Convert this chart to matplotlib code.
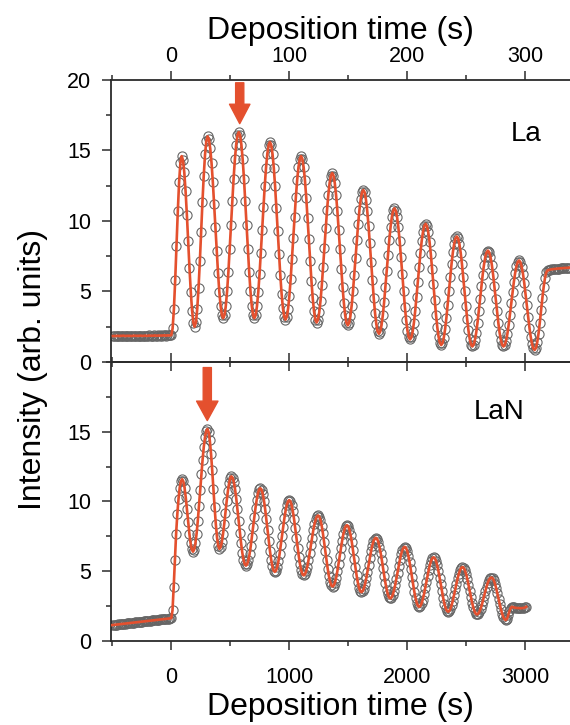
import numpy as np
import matplotlib.pyplot as plt
from matplotlib.ticker import MultipleLocator

plt.rcParams['font.family'] = ['Liberation Sans', 'DejaVu Sans']

# ---- La film: one sample every 1.1 s (top axis, s) ----
la_dt = 1.1
la_baseline = [
    1.84, 1.85, 1.83, 1.86, 1.85, 1.84, 1.86, 1.85, 1.87, 1.85,
    1.84, 1.86, 1.85, 1.86, 1.84, 1.85, 1.87, 1.86, 1.85, 1.86,
    1.85, 1.87, 1.86, 1.85, 1.86, 1.87, 1.85, 1.86, 1.88, 1.86,
    1.87, 1.86, 1.88, 1.87, 1.86, 1.88, 1.87, 1.88, 1.87, 1.89,
    1.88, 1.87, 1.89, 1.88, 1.89,
]
la_growth = [
    1.9, 2.38, 3.75, 5.82, 8.25, 10.68, 12.75, 14.12, 14.6,
    14.31, 13.45, 12.11, 10.43, 8.55, 6.67, 4.99, 3.65, 2.79, 2.5,
    2.82, 3.78, 5.28, 7.16, 9.25, 11.34, 13.22, 14.72, 15.68, 16.0,
    15.78, 15.14, 14.12, 12.77, 11.21, 9.55, 7.89, 6.32, 4.98, 3.96, 3.32, 3.1,
    3.32, 3.98, 5.03, 6.4, 8.0, 9.7, 11.4, 13.0, 14.37, 15.42, 16.08, 16.3,
    16.08, 15.42, 14.37, 13.0, 11.4, 9.7, 8.0, 6.4, 5.03, 3.98, 3.32, 3.1,
    3.31, 3.94, 4.93, 6.23, 7.74, 9.35, 10.96, 12.48, 13.78, 14.76, 15.39, 15.6,
    15.39, 14.76, 13.76, 12.45, 10.93, 9.3, 7.67, 6.15, 4.84, 3.84, 3.21, 3.0,
    3.2, 3.78, 4.69, 5.9, 7.3, 8.8, 10.3, 11.7, 12.91, 13.82, 14.4, 14.6,
    14.4, 13.81, 12.88, 11.65, 10.22, 8.7, 7.18, 5.75, 4.52, 3.59, 3.0, 2.8,
    2.98, 3.51, 4.35, 5.45, 6.73, 8.1, 9.47, 10.75, 11.85, 12.69, 13.22, 13.4,
    13.22, 12.68, 11.82, 10.7, 9.39, 8.0, 6.61, 5.3, 4.18, 3.32, 2.78, 2.6,
    2.76, 3.24, 4.0, 5.0, 6.16, 7.4, 8.64, 9.8, 10.8, 11.56, 12.04, 12.2,
    12.03, 11.52, 10.71, 9.65, 8.42, 7.1, 5.78, 4.55, 3.49, 2.68, 2.17, 2.0,
    2.15, 2.6, 3.3, 4.23, 5.3, 6.45, 7.6, 8.68, 9.6, 10.3, 10.75, 10.9,
    10.74, 10.28, 9.54, 8.57, 7.45, 6.25, 5.05, 3.92, 2.96, 2.22, 1.76, 1.6,
    1.74, 2.15, 2.8, 3.65, 4.64, 5.7, 6.76, 7.75, 8.6, 9.25, 9.66, 9.8,
    9.65, 9.22, 8.54, 7.65, 6.61, 5.5, 4.39, 3.35, 2.46, 1.78, 1.35, 1.2,
    1.33, 1.72, 2.32, 3.13, 4.06, 5.05, 6.04, 6.98, 7.78, 8.38, 8.77, 8.9,
    8.77, 8.38, 7.76, 6.95, 6.01, 5.0, 3.99, 3.05, 2.24, 1.62, 1.23, 1.1,
    1.22, 1.56, 2.09, 2.8, 3.62, 4.5, 5.38, 6.2, 6.91, 7.44, 7.78, 7.9,
    7.78, 7.44, 6.91, 6.2, 5.38, 4.5, 3.62, 2.8, 2.09, 1.56, 1.22, 1.1,
    1.2, 1.51, 1.99, 2.63, 3.36, 4.15, 4.94, 5.68, 6.31, 6.79, 7.1, 7.2,
    7.09, 6.77, 6.27, 5.61, 4.84, 4.02, 3.21, 2.44, 1.78, 1.28, 0.96, 0.85,
    0.99, 1.39, 2.01, 2.8, 3.68, 4.55, 5.34, 5.96, 6.36, 6.5,
    6.52, 6.55, 6.57, 6.58, 6.6, 6.6, 6.62, 6.63, 6.63, 6.65, 6.65, 6.66,
    6.67, 6.67, 6.68, 6.68, 6.7,
]

# ---- LaN film: one sample every 10.2 s (bottom axis, s) ----
lan_dt = 10.2
lan_baseline = [
    1.14, 1.15, 1.16, 1.17, 1.18, 1.19, 1.20, 1.21, 1.22, 1.23,
    1.24, 1.25, 1.26, 1.27, 1.28, 1.29, 1.30, 1.31, 1.32, 1.33,
    1.34, 1.35, 1.36, 1.37, 1.38, 1.39, 1.40, 1.41, 1.42, 1.43,
    1.44, 1.45, 1.46, 1.47, 1.48, 1.49, 1.50, 1.51, 1.52, 1.53,
    1.54, 1.55, 1.56, 1.57, 1.58, 1.59, 1.60, 1.61, 1.62,
]
lan_growth = [
    1.64, 2.2, 3.9, 5.8, 7.7, 9.1, 10.2, 11.0, 11.45, 11.6,
    11.44, 10.99, 10.3, 9.45, 8.55, 7.7, 7.01, 6.56, 6.4,
    6.55, 6.99, 7.68, 8.6, 9.66, 10.8, 11.94, 13.0, 13.92, 14.61, 15.05, 15.2,
    14.99, 14.38, 13.43, 12.23, 10.9, 9.57, 8.37, 7.42, 6.81, 6.6,
    6.72, 7.09, 7.67, 8.39, 9.2, 10.01, 10.73, 11.31, 11.68, 11.8,
    11.69, 11.37, 10.87, 10.2, 9.43, 8.6, 7.77, 7.0, 6.33, 5.83, 5.51, 5.4,
    5.49, 5.77, 6.21, 6.79, 7.46, 8.18, 8.89, 9.56, 10.14, 10.58, 10.86, 10.95,
    10.85, 10.55, 10.07, 9.45, 8.72, 7.95, 7.18, 6.45, 5.83, 5.35, 5.05, 4.95,
    5.04, 5.3, 5.7, 6.24, 6.86, 7.53, 8.19, 8.81, 9.35, 9.75, 10.01, 10.1,
    10.01, 9.74, 9.31, 8.75, 8.1, 7.4, 6.7, 6.05, 5.49, 5.06, 4.79, 4.7,
    4.77, 4.99, 5.33, 5.78, 6.3, 6.85, 7.4, 7.93, 8.37, 8.71, 8.93, 9.0,
    8.91, 8.66, 8.26, 7.72, 7.11, 6.45, 5.79, 5.17, 4.64, 4.24, 3.99, 3.9,
    3.97, 4.19, 4.54, 5.0, 5.53, 6.1, 6.67, 7.2, 7.66, 8.01, 8.23, 8.3,
    8.22, 7.98, 7.6, 7.1, 6.52, 5.9, 5.28, 4.7, 4.2, 3.82, 3.58, 3.5,
    3.57, 3.76, 4.07, 4.48, 4.95, 5.45, 5.95, 6.43, 6.83, 7.14, 7.33, 7.4,
    7.33, 7.11, 6.76, 6.31, 5.79, 5.22, 4.66, 4.14, 3.69, 3.34, 3.12, 3.05,
    3.11, 3.3, 3.59, 3.98, 4.42, 4.9, 5.38, 5.83, 6.21, 6.5, 6.69, 6.75,
    6.68, 6.46, 6.12, 5.67, 5.15, 4.6, 4.05, 3.52, 3.08, 2.74, 2.52, 2.45,
    2.51, 2.69, 2.97, 3.34, 3.77, 4.23, 4.68, 5.11, 5.48, 5.76, 5.94, 6.0,
    5.93, 5.74, 5.43, 5.02, 4.55, 4.05, 3.55, 3.07, 2.67, 2.36, 2.17, 2.1,
    2.15, 2.31, 2.57, 2.9, 3.29, 3.7, 4.11, 4.5, 4.83, 5.09, 5.25, 5.3,
    5.24, 5.07, 4.8, 4.45, 4.04, 3.6, 3.16, 2.75, 2.4, 2.13, 1.96, 1.9,
    1.95, 2.08, 2.29, 2.56, 2.88, 3.23, 3.57, 3.89, 4.16, 4.37, 4.5, 4.55,
    4.5, 4.35, 4.1, 3.79, 3.42, 3.02, 2.63, 2.26, 1.95, 1.7, 1.55, 1.5,
    1.59, 1.83, 2.12, 2.36, 2.45,
    2.42, 2.4, 2.38, 2.37, 2.36, 2.36, 2.35, 2.35, 2.36, 2.37, 2.4, 2.45,
]

# arrows marking the strongest oscillation
la_arrow_t = 58
lan_arrow_t = 305

red = '#e4502e'
grey = '#666666'
spine_col = '#2b2b2b'


def series(baseline, growth, dt):
    vals = np.array(baseline + growth)
    t = (np.arange(len(vals)) - len(baseline)) * dt
    return t, vals


def style(ax):
    for s in ['top', 'bottom', 'left']:
        ax.spines[s].set_color(spine_col)
        ax.spines[s].set_linewidth(1.3)
    ax.spines['right'].set_visible(False)
    ax.patch.set_alpha(0)
    ax.set_ylim(0, 20)
    ax.yaxis.set_minor_locator(MultipleLocator(2.5))
    ax.tick_params(which='both', direction='out', color=spine_col, width=1.1,
                   labelsize=15.5, right=False, top=True, bottom=True)
    ax.tick_params(which='major', length=6.5)
    ax.tick_params(which='minor', length=3.5)
    ax.tick_params(axis='y', pad=8)


fig = plt.figure(figsize=(5.7, 7.25), dpi=100)
ax1 = fig.add_axes([0.195, 0.5007, 0.805, 0.3890])
ax2 = fig.add_axes([0.195, 0.1159, 0.805, 0.3848])

# top panel: La
t, v = series(la_baseline, la_growth, la_dt)
ax1.plot(t, v, 'o', ms=6.6, mfc='none', mec=grey, mew=0.8, zorder=2)
ax1.plot(t, v, '-', color=red, lw=1.9, zorder=3)
style(ax1)
ax1.set_xlim(-51, 338)
ax1.xaxis.set_major_locator(MultipleLocator(100))
ax1.xaxis.set_minor_locator(MultipleLocator(50))
ax1.set_yticks([0, 5, 10, 15, 20])
ax1.tick_params(axis='x', labeltop=True, labelbottom=False, pad=3)
ax1.xaxis.set_label_position('top')
ax1.set_xlabel('Deposition time (s)', fontsize=23, labelpad=5)
ax1.text(301, 16.2, 'La', fontsize=20, ha='center', va='center')
ax1.annotate('', xy=(la_arrow_t, 16.9), xytext=(la_arrow_t, 19.8),
             arrowprops=dict(arrowstyle='simple,head_length=1.0,head_width=1.05,tail_width=0.42',
                             mutation_scale=14, color=red, shrinkA=0, shrinkB=0))

# bottom panel: LaN
t, v = series(lan_baseline, lan_growth, lan_dt)
ax2.plot(t, v, 'o', ms=6.6, mfc='none', mec=grey, mew=0.8, zorder=2)
ax2.plot(t, v, '-', color=red, lw=1.9, zorder=3)
style(ax2)
ax2.set_xlim(-510, 3380)
ax2.xaxis.set_major_locator(MultipleLocator(1000))
ax2.xaxis.set_minor_locator(MultipleLocator(500))
ax2.set_yticks([0, 5, 10, 15])
ax2.tick_params(axis='x', labeltop=False, labelbottom=True, pad=12)
ax2.set_xlabel('Deposition time (s)', fontsize=23, labelpad=3)
ax2.text(2775, 16.4, 'LaN', fontsize=20, ha='center', va='center')
ax2.annotate('', xy=(lan_arrow_t, 15.8), xytext=(lan_arrow_t, 19.6),
             arrowprops=dict(arrowstyle='simple,head_length=1.0,head_width=1.1,tail_width=0.42',
                             mutation_scale=14, color=red, shrinkA=0, shrinkB=0))

fig.text(0.058, 0.49, 'Intensity (arb. units)', rotation=90, fontsize=23,
         ha='center', va='center')

fig.savefig('out.png', dpi=100)
